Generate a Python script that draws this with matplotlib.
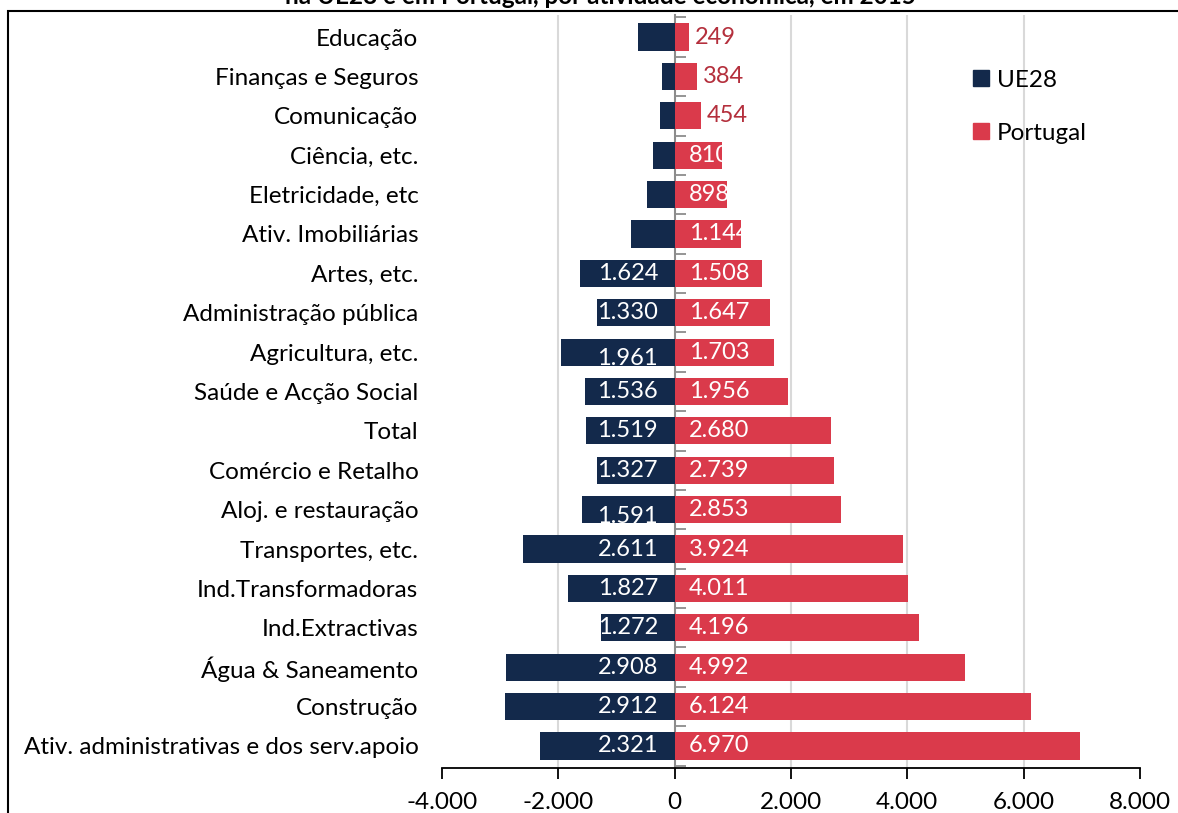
import matplotlib.pyplot as plt
from matplotlib.lines import Line2D
from matplotlib.patches import Rectangle
from matplotlib.ticker import FuncFormatter

plt.rcParams["font.family"] = ["Lato", "DejaVu Sans"]

CATEGORIES = [
    "Educação",
    "Finanças e Seguros",
    "Comunicação",
    "Ciência, etc.",
    "Eletricidade, etc",
    "Ativ. Imobiliárias",
    "Artes, etc.",
    "Administração pública",
    "Agricultura, etc.",
    "Saúde e Acção Social",
    "Total",
    "Comércio e Retalho",
    "Aloj. e restauração",
    "Transportes, etc.",
    "Ind.Transformadoras",
    "Ind.Extractivas",
    "Água & Saneamento",
    "Construção",
    "Ativ. administrativas e dos serv.apoio",
]
UE28 = [634, 216, 257, 365, 473, 755, 1624, 1330, 1961, 1536,
        1519, 1327, 1591, 2611, 1827, 1272, 2908, 2912, 2321]
PORTUGAL = [249, 384, 454, 810, 898, 1144, 1508, 1647, 1703, 1956,
            2680, 2739, 2853, 3924, 4011, 4196, 4992, 6124, 6970]
UE28_LABELLED = [False] * 6 + [True] * 13
XTICKS = [-4000, -2000, 0, 2000, 4000, 6000, 8000]
TITLE = "na UE28 e em Portugal, por atividade económica, em 2015"

NAVY = "#13294B"
RED = "#DA3A4B"
DARK_RED = "#B42F3C"
FS = 17.5
FS_VAL = 17


def fmt(v, _=None):
    return f"{v:,.0f}".replace(",", ".")


fig = plt.figure(figsize=(11.78, 8.13), dpi=100)
ax = fig.add_axes([442 / 1178, 1 - 768 / 813, 698 / 1178, 753 / 813])

y = list(range(len(CATEGORIES)))
ue_bars = ax.barh(y, [-v for v in UE28], height=0.69, color=NAVY, zorder=3)
pt_bars = ax.barh(y, PORTUGAL, height=0.69, color=RED, zorder=3)

ax.set_ylim(len(CATEGORIES) - 0.44, -0.56)
ax.set_xlim(XTICKS[0], XTICKS[-1])
ax.set_xticks(XTICKS)
ax.xaxis.set_major_formatter(FuncFormatter(fmt))
ax.tick_params(axis="x", direction="out", length=8, width=1.3, labelsize=FS, pad=9)
ax.set_yticks(y)
ax.set_yticklabels(CATEGORIES, fontsize=FS)
ax.tick_params(axis="y", length=0, pad=17)
for side in ("top", "right", "left"):
    ax.spines[side].set_visible(False)
ax.spines["bottom"].set_linewidth(1.3)

ax.xaxis.grid(True, color="#D9D9D9", linewidth=1.5, zorder=0)
gl = ax.xaxis.get_gridlines()
gl[0].set_visible(False)
gl[-1].set_visible(False)
gl[2].set_visible(False)

# zero axis with small gray ticks
zero = ax.secondary_yaxis((0 - XTICKS[0]) / (XTICKS[-1] - XTICKS[0]))
zero.set_yticks([i - 0.5 for i in y] + [len(y) - 0.5])
zero.set_yticklabels([])
zero.set_yticks(y, minor=True)
zero.tick_params(axis="y", which="major", direction="in", length=8, width=1.3, color="#8C8C8C")
zero.tick_params(axis="y", which="minor", direction="in", length=5, width=1.3, color="#8C8C8C")
zero.spines["left"].set_color("#8C8C8C")
zero.spines["left"].set_linewidth(1.5)

lowered = {"Agricultura, etc.", "Aloj. e restauração"}
for i, (cat, ue, pt) in enumerate(zip(CATEGORIES, UE28, PORTUGAL)):
    if UE28_LABELLED[i]:
        dy = 0.17 if cat in lowered else 0
        t = ax.annotate(fmt(ue), (0, i + dy), xytext=(-12, 0), textcoords="offset points",
                        ha="right", va="center", color="white", fontsize=FS_VAL, zorder=5)
        t.set_clip_path(ue_bars[i])
    if pt < 700:
        ax.annotate(fmt(pt), (pt, i), xytext=(4, 0), textcoords="offset points",
                    ha="left", va="center", color=DARK_RED, fontsize=FS_VAL, zorder=5)
    else:
        t = ax.annotate(fmt(pt), (0, i), xytext=(10, 0), textcoords="offset points",
                        ha="left", va="center", color="white", fontsize=FS_VAL, zorder=5)
        t.set_clip_path(pt_bars[i])

handles = [
    Line2D([], [], marker="s", linestyle="none", markersize=11, color=NAVY, label="UE28"),
    Line2D([], [], marker="s", linestyle="none", markersize=11, color=RED, label="Portugal"),
]
fig.legend(handles=handles, loc="upper left", bbox_to_anchor=(952 / 1178, 1 - 48 / 813),
           frameon=False, fontsize=FS, handlelength=0.6, handletextpad=0.35, labelspacing=1.3)

fig.patches.append(Rectangle((8 / 1178, -0.02), 1.1, 1 - 11 / 813 + 0.02,
                             transform=fig.transFigure, fill=False, edgecolor="black",
                             linewidth=1.5, zorder=10))
fig.text(600 / 1178, 1 - 4 / 813, TITLE, ha="center", va="baseline",
         fontsize=FS, fontweight="bold")

fig.savefig("out.png", dpi=100)
